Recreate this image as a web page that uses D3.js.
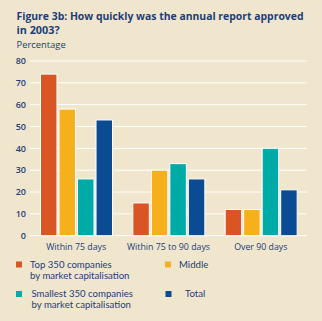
<!DOCTYPE html>
<html>
<head>
    <script src="https://d3js.org/d3.v7.min.js"></script>
    <style>
        body { margin: 0; background: #f0e5cd; }
        svg { display: block; font-family: "Open Sans", "Noto Sans", sans-serif; }
        .leg { font-family: Lato, "Open Sans", sans-serif; }
    </style>
</head>
<body>
    <svg id="chart" width="322" height="321"></svg>
    <script>
        // Data
        const categories = ["Within 75 days", "Within 75 to 90 days", "Over 90 days"];
        const series = ["Top 350", "Middle", "Smallest 350", "Total"];
        const top350 = [74, 15, 12];
        const middle = [58, 30, 12];
        const smallest350 = [26, 33, 40];
        const total = [53, 26, 21];
        const yTicks = [0, 10, 20, 30, 40, 50, 60, 70, 80];

        const values = [top350, middle, smallest350, total];
        const colors = ["#d95523", "#f6b01c", "#00aaa6", "#0b4b93"];
        const ink = "#1c3f78";

        const svg = d3.select("#chart");

        // Title
        svg.append("text").attr("x", 16.5).attr("y", 20)
            .attr("fill", ink).attr("font-weight", "bold").attr("font-size", 10.8)
            .attr("textLength", 287).attr("lengthAdjust", "spacingAndGlyphs")
            .text("Figure 3b: How quickly was the annual report approved");
        svg.append("text").attr("x", 16.5).attr("y", 34)
            .attr("fill", ink).attr("font-weight", "bold").attr("font-size", 10.8)
            .text("in 2003?");
        svg.append("text").attr("x", 16.5).attr("y", 47.5)
            .attr("fill", ink).attr("font-size", 9.4)
            .text("Percentage");

        const y = d3.scaleLinear().domain([0, 80]).range([235.7, 61]);
        const x0 = d3.scaleBand().domain(categories).range([30, 307]);
        const x1 = d3.scaleBand().domain(series).range([10.5, 82.5]).paddingInner(0.11);

        // Gridlines
        svg.append("g").selectAll("line")
            .data(yTicks)
            .enter().append("line")
            .attr("x1", 30).attr("x2", 307)
            .attr("y1", d => y(d)).attr("y2", d => y(d))
            .attr("stroke", "#ffffff").attr("stroke-width", 1);

        // Y labels
        svg.append("g").selectAll("text")
            .data(yTicks)
            .enter().append("text")
            .attr("x", 26).attr("y", d => y(d) + 3.2)
            .attr("text-anchor", "end")
            .attr("fill", ink).attr("font-size", 9).attr("font-weight", 600)
            .text(d => d);

        // Bars
        const groups = svg.append("g").selectAll("g")
            .data(categories)
            .enter().append("g")
            .attr("transform", d => `translate(${x0(d)},0)`);

        groups.selectAll("rect")
            .data((c, i) => series.map((s, j) => ({ s, j, v: values[j][i] })))
            .enter().append("rect")
            .attr("x", d => x1(d.s))
            .attr("width", x1.bandwidth())
            .attr("y", d => y(d.v))
            .attr("height", d => y(0) - y(d.v))
            .attr("fill", d => colors[d.j])
            .attr("stroke", "#ffffff").attr("stroke-width", 1);

        // Category labels
        svg.append("g").selectAll("text")
            .data(categories)
            .enter().append("text")
            .attr("x", d => x0(d) + x0.bandwidth() / 2)
            .attr("y", 250)
            .attr("text-anchor", "middle")
            .attr("fill", ink).attr("font-size", 8.8)
            .text(d => d);

        // Legend
        const legend = [
            { c: 0, x: 16, y: 261.5, lines: ["Top 350 companies", "by market capitalisation"], tx: 30 },
            { c: 1, x: 165, y: 261.5, lines: ["Middle"], tx: 179 },
            { c: 2, x: 16, y: 291, lines: ["Smallest 350 companies", "by market capitalisation"], tx: 31.5 },
            { c: 3, x: 165.5, y: 291, lines: ["Total"], tx: 185 }
        ];
        const lg = svg.append("g").selectAll("g").data(legend).enter().append("g");
        lg.append("rect")
            .attr("x", d => d.x).attr("y", d => d.y)
            .attr("width", 6).attr("height", 6)
            .attr("fill", d => colors[d.c]);
        lg.each(function (d) {
            d.lines.forEach((t, k) => {
                d3.select(this).append("text")
                    .attr("class", "leg")
                    .attr("x", d.tx).attr("y", d.y + 6 + k * 11.2)
                    .attr("fill", ink).attr("font-size", 9.6)
                    .text(t);
            });
        });
    </script>
</body>
</html>
